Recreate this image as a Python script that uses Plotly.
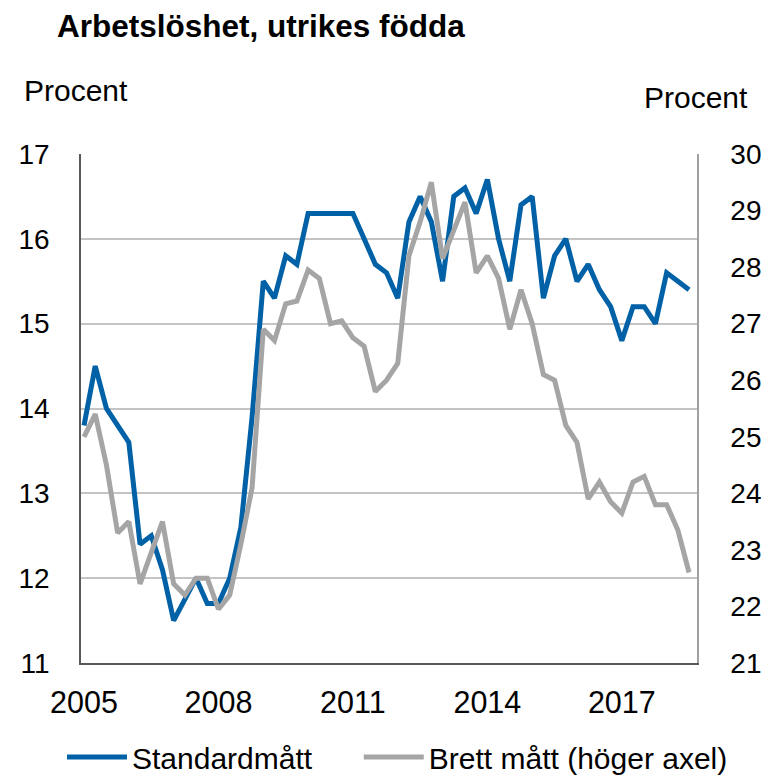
import plotly.graph_objects as go

# Quarterly categories 2005 Q1 .. 2018 Q3
quarters = [f"{y} K{q}" for y in range(2005, 2019) for q in range(1, 5)][:55]

standardmatt = [13.8, 14.5, 14.0, 13.8, 13.6, 12.4, 12.5, 12.1, 11.5, 11.75,
                12.0, 11.7, 11.7, 12.0, 12.6, 13.9, 15.5, 15.3, 15.8, 15.7,
                16.3, 16.3, 16.3, 16.3, 16.3, 16.0, 15.7, 15.6, 15.3, 16.2,
                16.5, 16.2, 15.5, 16.5, 16.6, 16.3, 16.7, 16.0, 15.5, 16.4,
                16.5, 15.3, 15.8, 16.0, 15.5, 15.7, 15.4, 15.2, 14.8, 15.2,
                15.2, 15.0, 15.6, 15.5, 15.4]

brett_matt = [25.0, 25.4, 24.5, 23.3, 23.5, 22.4, 22.95, 23.5, 22.4, 22.2,
              22.5, 22.5, 21.95, 22.2, 23.1, 24.1, 26.9, 26.7, 27.35, 27.4,
              27.95, 27.8, 27.0, 27.05, 26.75, 26.6, 25.8, 26.0, 26.3, 28.2,
              28.8, 29.5, 28.15, 28.65, 29.15, 27.9, 28.2, 27.8, 26.9, 27.6,
              27.0, 26.1, 26.0, 25.2, 24.9, 23.9, 24.2, 23.85, 23.65, 24.2,
              24.3, 23.8, 23.8, 23.35, 22.6]

tick_quarters = ["2005 K1", "2008 K1", "2011 K1", "2014 K1", "2017 K1"]
tick_labels = ["2005", "2008", "2011", "2014", "2017"]

left_ticks = [11, 12, 13, 14, 15, 16, 17]
right_ticks = [21, 22, 23, 24, 25, 26, 27, 28, 29, 30]

series_names = ["Standardmått", "Brett mått (höger axel)"]

BLUE = "#0061A6"
GREY = "#A5A5A5"
FONT = "Liberation Sans, Arial, Helvetica, sans-serif"

# The page body has an 8px margin; figure is sized so that it fills the window.
W, H = 763, 770
ML, MR, MT, MB = 73, 74, 146, 115
PW, PH = W - ML - MR, H - MT - MB


def px_x(x):  # window pixel -> paper x
    return (x - 8 - ML) / PW


def px_y(y):  # window pixel -> paper y
    return (H - MB - (y - 8)) / PH


NBSP = "\u00a0"

fig = go.Figure()
fig.add_trace(go.Scatter(x=quarters, y=standardmatt, name=series_names[0] + NBSP * 5,
                         mode="lines", line=dict(color=BLUE, width=5), yaxis="y",
                         hovertemplate=series_names[0] + ": %{y}<extra></extra>"))
fig.add_trace(go.Scatter(x=quarters, y=brett_matt, name=series_names[1],
                         mode="lines", line=dict(color=GREY, width=5), yaxis="y2",
                         hovertemplate=series_names[1] + ": %{y}<extra></extra>"))

fig.update_layout(
    width=W, height=H,
    margin=dict(l=ML, r=MR, t=MT, b=MB, pad=0, autoexpand=False),
    paper_bgcolor="white", plot_bgcolor="white",
    font=dict(family=FONT, size=28, color="black"),
    title=dict(text="<b>Arbetslöshet, utrikes födda</b>",
               x=(57 - 8) / W, xanchor="left", xref="container",
               y=1 - (26 - 8) / H, yanchor="middle", yref="container",
               font=dict(size=31.5, family=FONT, color="black")),
    xaxis=dict(type="category", categoryorder="array", categoryarray=quarters,
               range=[-0.27, 54.71], tickvals=tick_quarters, ticktext=tick_labels,
               showgrid=False, showline=True, linecolor="#595959", linewidth=1.5,
               ticks="", ticklabelstandoff=12, tickfont=dict(size=30.5)),
    yaxis=dict(range=[11, 17], tickvals=left_ticks, showgrid=True,
               gridcolor="#C4C4C4", gridwidth=1.5, showline=True,
               linecolor="#595959", linewidth=1.5, ticks="",
               ticklabelstandoff=24, zeroline=False, tickfont=dict(size=28)),
    yaxis2=dict(range=[21, 30], tickvals=right_ticks, overlaying="y", side="right",
                showgrid=False, showline=True, linecolor="#A0A0A0", linewidth=1.5,
                ticks="", ticklabelstandoff=26, zeroline=False, tickfont=dict(size=28)),
    legend=dict(orientation="h", x=px_x(62), xanchor="left", y=px_y(757), yanchor="middle",
                font=dict(size=30), itemwidth=60,
                bgcolor="rgba(0,0,0,0)", traceorder="normal"),
    annotations=[
        dict(text="Procent", xref="paper", yref="paper", x=px_x(22), y=px_y(91),
             xanchor="left", yanchor="middle", showarrow=False, font=dict(size=30)),
        dict(text="Procent", xref="paper", yref="paper", x=px_x(750), y=px_y(97),
             xanchor="right", yanchor="middle", showarrow=False, font=dict(size=30)),
    ],
)

fig.write_html("out.html")
